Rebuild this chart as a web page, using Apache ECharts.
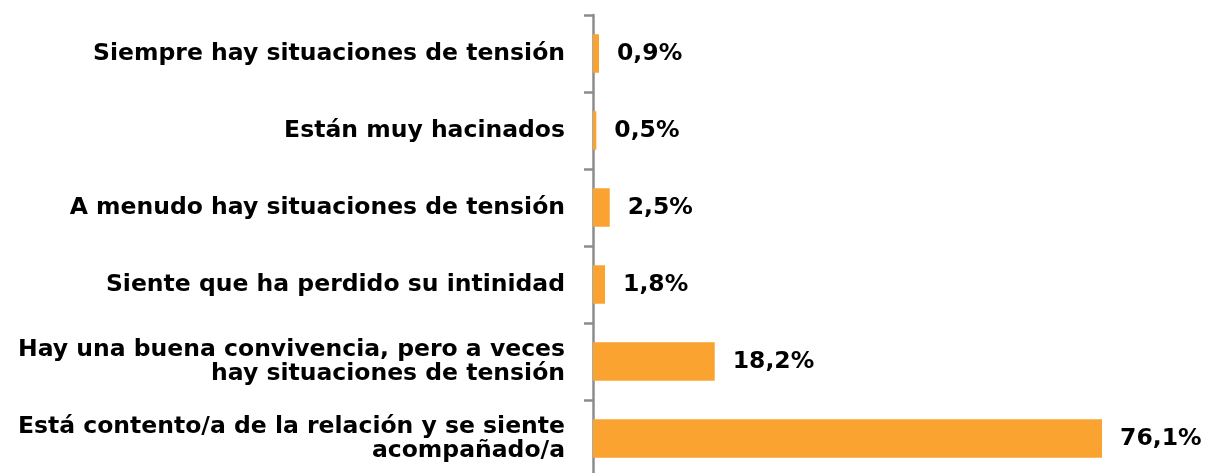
<!DOCTYPE html>
<html>
<head>
<meta charset="utf-8">
<script src="https://cdn.jsdelivr.net/npm/echarts@6/dist/echarts.min.js"></script>
<style>html,body{margin:0;padding:0;background:#fff}#c{width:1205px;height:473px}</style>
</head>
<body>
<div id="c"></div>
<script>
var categories = [
  'Siempre hay situaciones de tensión',
  'Están muy hacinados',
  'A menudo hay situaciones de tensión',
  'Siente que ha perdido su intinidad',
  'Hay una buena convivencia, pero a veces\nhay situaciones de tensión',
  'Está contento/a de la relación y se siente\nacompañado/a'
];
var values = [0.9, 0.5, 2.5, 1.8, 18.2, 76.1];

var chart = echarts.init(document.getElementById('c'));
var font = '"DejaVu Sans", sans-serif';
chart.setOption({
  animation: false,
  grid: { left: 593, top: 15, height: 462, width: 602, outerBoundsMode: 'none', containLabel: false },
  xAxis: { type: 'value', min: 0, max: 90, show: false },
  yAxis: {
    type: 'category',
    data: categories,
    inverse: true,
    axisLine: { show: true, lineStyle: { color: '#8c8c8c', width: 2.5 } },
    axisTick: { show: true, length: 9, lineStyle: { color: '#8c8c8c', width: 2.5 } },
    axisLabel: {
      margin: 28,
      color: '#000',
      fontFamily: font,
      fontWeight: 'bold',
      fontSize: 23.5,
      lineHeight: 24,
      align: 'right'
    }
  },
  series: [{
    type: 'bar',
    data: values,
    barWidth: '50%',
    itemStyle: { color: '#FAA330' },
    label: {
      show: true,
      position: 'right',
      distance: 18,
      color: '#000',
      fontFamily: font,
      fontWeight: 'bold',
      fontSize: 23.5,
      formatter: function (p) { return p.value.toFixed(1).replace('.', ',') + '%'; }
    }
  }]
});
</script>
</body>
</html>
